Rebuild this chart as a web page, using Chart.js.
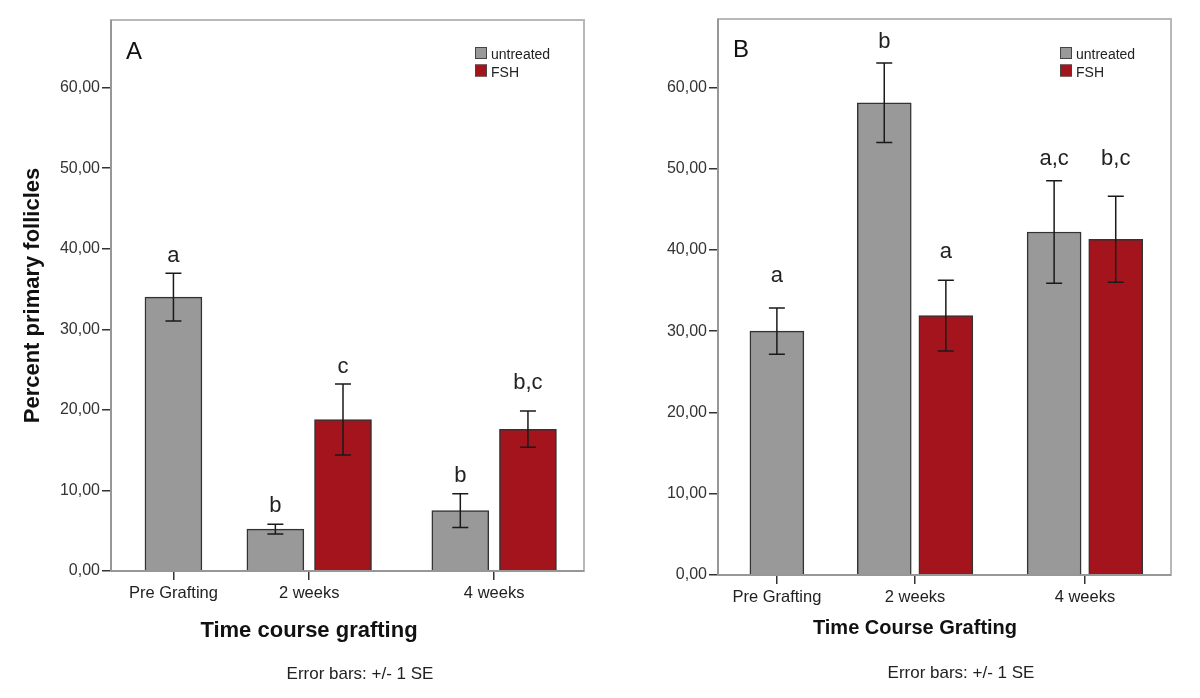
<!DOCTYPE html>
<html>
<head>
<meta charset="utf-8">
<script src="https://cdn.jsdelivr.net/npm/chart.js@4.4.1/dist/chart.umd.min.js"></script>
<style>
  body { margin: 0; background: #ffffff; }
  .panel { position: absolute; top: 0; width: 600px; height: 698px; }
</style>
</head>
<body>
<div class="panel" style="left:0"><canvas id="chartA"></canvas></div>
<div class="panel" style="left:600px"><canvas id="chartB"></canvas></div>
<script>
const groups = ["Pre Grafting", "2 weeks", "4 weeks"];
const seriesNames = ["untreated", "FSH"];
const yTicks = [0, 10, 20, 30, 40, 50, 60];
const yMax = 68.4;

// Panel A - means, SE and significance letters
const untreatedA = [34.0, 5.2, 7.5];
const untreatedErrA = [2.95, 0.6, 2.1];
const fshA = [null, 18.8, 17.6];
const fshErrA = [null, 4.4, 2.25];
const untreatedLettersA = ["a", "b", "b"];
const fshLettersA = [null, "c", "b,c"];
const untreatedLetterYA = [38.4, 7.3, 11.1];
const fshLetterYA = [null, 24.6, 22.6];

// Panel B
const untreatedB = [30.0, 58.1, 42.2];
const untreatedErrB = [2.85, 4.9, 6.3];
const fshB = [null, 31.9, 41.3];
const fshErrB = [null, 4.35, 5.3];
const untreatedLettersB = ["a", "b", "a,c"];
const fshLettersB = [null, "a", "b,c"];
const untreatedLetterYB = [36.0, 64.8, 50.4];
const fshLetterYB = [null, 39.0, 50.4];

const FONT = "'Liberation Sans', Arial, sans-serif";
const GRAY = "#999999";
const RED = "#a4141c";

function fmt(v) {
    return v.toFixed(2).replace(".", ",");
}

// builds {x, y} points; a group with only one series gets its bar centred on the tick
function points(vals, errs, letters, letterY, other, side, cfg) {
    const out = [];
    vals.forEach((v, i) => {
        if (v == null) return;
        const shift = other[i] == null ? 0 : side * cfg.pairOffset;
        out.push({ x: cfg.groupPos[i] + shift, y: v, err: errs[i], letter: letters[i], letterY: letterY[i] });
    });
    return out;
}

const decor = {
    id: "decor",
    afterDatasetsDraw(chart, args, o) {
        const { ctx, scales: { x, y } } = chart;
        ctx.save();
        ctx.strokeStyle = "#1a1a1a";
        ctx.lineWidth = 1.5;
        ctx.fillStyle = "#222";
        ctx.font = "22px " + FONT;
        ctx.textAlign = "center";
        ctx.textBaseline = "alphabetic";
        chart.data.datasets.forEach(ds => {
            ds.data.forEach(p => {
                const px = x.getPixelForValue(p.x);
                const top = y.getPixelForValue(p.y + p.err);
                const bot = y.getPixelForValue(p.y - p.err);
                ctx.beginPath();
                ctx.moveTo(px, top); ctx.lineTo(px, bot);
                ctx.moveTo(px - o.cap, top); ctx.lineTo(px + o.cap, top);
                ctx.moveTo(px - o.cap, bot); ctx.lineTo(px + o.cap, bot);
                ctx.stroke();
                ctx.fillText(p.letter, px, y.getPixelForValue(p.letterY));
            });
        });
        ctx.restore();
    },
    afterDraw(chart, args, o) {
        const { ctx, chartArea: a } = chart;
        ctx.save();
        // frame
        ctx.strokeStyle = "#b8b8b8";
        ctx.lineWidth = 2;
        ctx.strokeRect(a.left, a.top, a.right - a.left, a.bottom - a.top);
        ctx.strokeStyle = "#8c8c8c";
        ctx.lineWidth = 1.5;
        ctx.beginPath();
        ctx.moveTo(a.left, a.top); ctx.lineTo(a.left, a.bottom); ctx.lineTo(a.right, a.bottom);
        ctx.stroke();

        // legend
        ctx.font = "14px " + FONT;
        ctx.textAlign = "left";
        ctx.textBaseline = "alphabetic";
        chart.data.datasets.forEach((ds, i) => {
            const top = o.legendY + i * 17.5;
            ctx.fillStyle = ds.backgroundColor;
            ctx.fillRect(o.legendX, top, 12, 12);
            ctx.strokeStyle = "#444";
            ctx.lineWidth = 1;
            ctx.strokeRect(o.legendX + 0.5, top + 0.5, 11, 11);
            ctx.fillStyle = "#222";
            ctx.fillText(ds.label, o.legendX + 16, top + 12);
        });

        // panel letter
        ctx.fillStyle = "#111";
        ctx.font = "24px " + FONT;
        ctx.fillText(o.panel, o.panelX, o.panelY);

        // x title and footnote
        ctx.textAlign = "center";
        ctx.font = "bold " + o.xTitleSize + "px " + FONT;
        ctx.fillText(o.xTitle, o.xTitleX, o.xTitleY);
        ctx.font = "17px " + FONT;
        ctx.fillStyle = "#222";
        ctx.fillText("Error bars: +/- 1 SE", o.noteX, o.noteY);
        ctx.restore();
    }
};

function createPanel(cfg) {
    const area = cfg.area;
    return new Chart(document.getElementById(cfg.id), {
        type: "bar",
        data: {
            datasets: [{
                label: seriesNames[0],
                data: points(cfg.untreated, cfg.untreatedErr, cfg.untreatedLetters, cfg.untreatedLetterY, cfg.fsh, -1, cfg),
                backgroundColor: GRAY,
                borderColor: "#333",
                borderWidth: 1.5
            }, {
                label: seriesNames[1],
                data: points(cfg.fsh, cfg.fshErr, cfg.fshLetters, cfg.fshLetterY, cfg.untreated, 1, cfg),
                backgroundColor: RED,
                borderColor: "#333",
                borderWidth: 1.5
            }]
        },
        options: {
            responsive: true,
            maintainAspectRatio: false,
            animation: false,
            events: [],
            grouped: false,
            categoryPercentage: 1,
            barPercentage: 1,
            maxBarThickness: cfg.barWidth,
            layout: { padding: { top: area.top, right: 600 - area.right, left: 0, bottom: 0 } },
            scales: {
                x: {
                    type: "linear",
                    min: 0,
                    max: 100,
                    offset: false,
                    afterFit: s => { s.height = 698 - area.bottom; },
                    afterBuildTicks: s => { s.ticks = cfg.groupPos.map(v => ({ value: v })); },
                    ticks: {
                        autoSkip: false,
                        maxRotation: 0,
                        callback: (v, i) => groups[i],
                        font: { family: FONT, size: 16.5 },
                        color: "#222",
                        padding: 4
                    },
                    grid: { offset: false, drawOnChartArea: false, tickLength: 9, color: "#333", lineWidth: 1.5 },
                    border: { display: false }
                },
                y: {
                    min: 0,
                    max: yMax,
                    stacked: false,
                    afterFit: s => { s.width = area.left; },
                    afterBuildTicks: s => { s.ticks = yTicks.map(v => ({ value: v })); },
                    ticks: {
                        callback: v => fmt(v),
                        font: { family: FONT, size: 16 },
                        color: "#333",
                        padding: 2
                    },
                    grid: { drawOnChartArea: false, tickLength: 9, color: "#333", lineWidth: 1.5 },
                    border: { display: false },
                    title: {
                        display: !!cfg.yTitle,
                        text: cfg.yTitle || "",
                        font: { family: FONT, size: 22, weight: "bold" },
                        color: "#111",
                        padding: { top: 20 }
                    }
                }
            },
            plugins: {
                legend: { display: false },
                tooltip: { enabled: false },
                decor: cfg.decor
            }
        },
        plugins: [decor]
    });
}

createPanel({
    id: "chartA",
    untreated: untreatedA, untreatedErr: untreatedErrA,
    untreatedLetters: untreatedLettersA, untreatedLetterY: untreatedLetterYA,
    fsh: fshA, fshErr: fshErrA, fshLetters: fshLettersA, fshLetterY: fshLetterYA,
    groupPos: [13.2, 41.9, 81.0],
    pairOffset: 7.15,
    barWidth: 57,
    area: { left: 111, top: 20, right: 584, bottom: 571 },
    yTitle: "Percent primary follicles",
    decor: {
        cap: 8, panel: "A", panelX: 126, panelY: 59,
        legendX: 475, legendY: 47,
        xTitle: "Time course grafting", xTitleSize: 22, xTitleX: 309, xTitleY: 637,
        noteX: 360, noteY: 679
    }
});

createPanel({
    id: "chartB",
    untreated: untreatedB, untreatedErr: untreatedErrB,
    untreatedLetters: untreatedLettersB, untreatedLetterY: untreatedLetterYB,
    fsh: fshB, fshErr: fshErrB, fshLetters: fshLettersB, fshLetterY: fshLetterYB,
    groupPos: [13.0, 43.5, 81.0],
    pairOffset: 6.8,
    barWidth: 54,
    area: { left: 118, top: 19, right: 571, bottom: 575 },
    yTitle: null,
    decor: {
        cap: 8, panel: "B", panelX: 133, panelY: 57,
        legendX: 460, legendY: 47,
        xTitle: "Time Course Grafting", xTitleSize: 20, xTitleX: 315, xTitleY: 634,
        noteX: 361, noteY: 678
    }
});
</script>
</body>
</html>
